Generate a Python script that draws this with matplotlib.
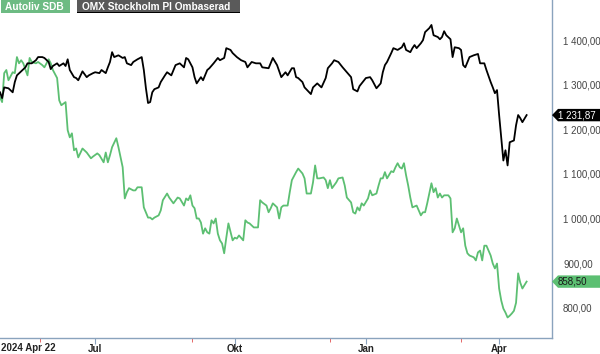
import matplotlib
matplotlib.use("Agg")
import matplotlib.pyplot as plt
from matplotlib.patches import Polygon, Rectangle
from matplotlib.transforms import blended_transform_factory

plt.rcParams['font.family'] = ['Liberation Sans', 'DejaVu Sans']

# trading-day index -> close
omx_days = [0, 1, 2, 4, 6, 7, 8, 10, 12, 13, 15, 17, 18, 20, 21, 23, 24, 25, 27, 28,
            30, 31, 32, 33, 35, 36, 37, 39, 41, 42, 44, 45, 47, 48, 50, 51, 52, 53, 54, 56,
            58, 59, 60, 62, 63, 65, 67, 68, 69, 70, 71, 72, 73, 75, 76, 78, 79, 81, 83, 85,
            87, 88, 89, 91, 92, 93, 95, 96, 98, 99, 101, 103, 104, 106, 107, 109, 110, 112, 114, 116,
            117, 119, 121, 123, 124, 127, 129, 131, 133, 135, 136, 138, 139, 140, 141, 143, 144, 147, 148, 150,
            152, 154, 155, 157, 158, 160, 162, 164, 166, 167, 169, 170, 173, 175, 176, 178, 180, 181, 182, 183,
            185, 186, 188, 190, 191, 192, 194, 195, 196, 197, 199, 200, 201, 203, 204, 205, 207, 208, 209, 210,
            211, 213, 214, 215, 217, 218, 219, 220, 222, 224, 226, 227, 229, 230, 232, 233, 234, 235, 236, 237,
            238, 239, 240, 241, 243, 244, 245, 246, 247, 249]
omx_vals = [1283, 1270, 1294, 1292, 1283, 1306, 1321, 1330, 1339, 1348, 1348, 1355, 1362, 1362, 1360, 1351, 1335, 1342, 1348, 1342,
            1348, 1342, 1357, 1333, 1317, 1315, 1310, 1330, 1317, 1321, 1326, 1328, 1326, 1333, 1326, 1339, 1351, 1373, 1362, 1366,
            1360, 1362, 1348, 1344, 1351, 1357, 1362, 1333, 1292, 1259, 1261, 1283, 1290, 1294, 1306, 1321, 1328, 1321, 1344, 1348,
            1339, 1360, 1357, 1339, 1317, 1303, 1317, 1310, 1333, 1337, 1348, 1360, 1355, 1360, 1382, 1378, 1371, 1362, 1355, 1351,
            1339, 1351, 1348, 1348, 1339, 1337, 1360, 1344, 1317, 1328, 1321, 1337, 1337, 1317, 1315, 1306, 1294, 1279, 1294, 1303,
            1294, 1315, 1337, 1348, 1355, 1351, 1339, 1328, 1317, 1290, 1285, 1297, 1315, 1317, 1310, 1292, 1303, 1328, 1344, 1351,
            1371, 1382, 1378, 1384, 1393, 1378, 1373, 1382, 1389, 1382, 1393, 1400, 1418, 1427, 1434, 1411, 1407, 1402, 1407, 1420,
            1411, 1402, 1362, 1384, 1382, 1378, 1344, 1339, 1362, 1366, 1369, 1348, 1348, 1333, 1306, 1294, 1281, 1288, 1232, 1180,
            1130, 1153, 1119, 1171, 1175, 1209, 1232, 1225, 1216, 1231.87]

alv_days = [0, 1, 2, 3, 4, 6, 7, 8, 9, 10, 11, 13, 14, 15, 17, 18, 20, 21, 23, 24,
            25, 27, 28, 29, 31, 32, 33, 34, 35, 36, 37, 39, 41, 43, 44, 46, 47, 49, 50, 51,
            52, 53, 55, 56, 58, 59, 60, 61, 63, 64, 65, 67, 68, 70, 71, 72, 73, 75, 76, 77,
            79, 80, 82, 84, 85, 87, 88, 89, 90, 91, 92, 93, 94, 95, 96, 97, 98, 99, 100, 101,
            102, 103, 104, 105, 106, 107, 108, 110, 111, 112, 113, 115, 116, 117, 118, 120, 122, 123, 124, 126,
            127, 128, 129, 131, 132, 133, 134, 136, 137, 138, 140, 141, 143, 144, 145, 147, 148, 149, 150, 151,
            153, 154, 155, 156, 157, 159, 160, 162, 163, 164, 166, 167, 168, 169, 170, 171, 172, 174, 175, 176,
            178, 179, 180, 181, 182, 183, 185, 186, 187, 188, 189, 190, 191, 192, 193, 194, 195, 197, 198, 199,
            200, 201, 202, 203, 204, 205, 206, 207, 208, 209, 210, 212, 213, 214, 215, 216, 218, 219, 220, 221,
            222, 224, 225, 226, 227, 228, 229, 230, 232, 233, 234, 235, 236, 237, 238, 239, 240, 241, 242, 243,
            244, 245, 246, 247, 249]
alv_vals = [1272, 1261, 1326, 1333, 1310, 1328, 1326, 1362, 1348, 1355, 1348, 1321, 1360, 1351, 1348, 1351, 1344, 1339, 1357, 1348,
            1333, 1315, 1265, 1254, 1261, 1198, 1182, 1191, 1153, 1157, 1137, 1157, 1148, 1135, 1139, 1146, 1142, 1126, 1148, 1126,
            1142, 1160, 1180, 1160, 1115, 1045, 1059, 1068, 1063, 1063, 1070, 1070, 1025, 1002, 1002, 998, 1002, 1007, 1018, 1041,
            1056, 1047, 1034, 1047, 1045, 1029, 1045, 1041, 1052, 1029, 1023, 1000, 1000, 991, 966, 978, 969, 966, 996, 989,
            1000, 966, 951, 944, 922, 957, 989, 951, 957, 955, 962, 951, 996, 991, 989, 980, 980, 1041, 1036, 1029,
            1014, 1023, 1034, 1025, 1000, 1025, 1029, 1029, 1059, 1086, 1104, 1112, 1101, 1090, 1056, 1056, 1081, 1119, 1090, 1090,
            1092, 1086, 1068, 1086, 1068, 1081, 1090, 1092, 1074, 1047, 1036, 1014, 1011, 1025, 1018, 1034, 1029, 1045, 1063, 1052,
            1056, 1074, 1090, 1090, 1104, 1090, 1106, 1104, 1115, 1124, 1115, 1112, 1124, 1097, 1074, 1047, 1025, 1029, 1018, 1007,
            1014, 1014, 1034, 1056, 1079, 1059, 1068, 1047, 1056, 1047, 1052, 1052, 1045, 969, 978, 1000, 969, 978, 939, 922,
            917, 913, 906, 924, 928, 906, 939, 939, 917, 899, 888, 899, 843, 816, 798, 789, 778, 782, 787, 793,
            811, 877, 856, 843, 858.5]

month_ticks = [45, 111, 173, 236]
month_labels = ['Jul', 'Okt', 'Jan', 'Apr']
red_ticks = [19, 91, 156, 218]
y_ticks = [800, 900, 1000, 1100, 1200, 1300, 1400]
y_labels = ['800,00', '900,00', '1 000,00', '1 100,00', '1 200,00', '1 300,00', '1 400,00']

GREEN = '#5cbf72'
SPINE = '#8aa3bd'

fig = plt.figure(figsize=(6, 3.54), dpi=100)
ax = fig.add_axes([0, 16 / 354, 552 / 600, 338 / 354])

ax.plot(alv_days, alv_vals, color=GREEN, lw=1.3, solid_joinstyle='round')
ax.plot(omx_days, omx_vals, color='black', lw=1.3, solid_joinstyle='round')

ax.set_xlim(0, 261)
ax.set_ylim(732, 1490)

for s in ['left', 'top']:
    ax.spines[s].set_visible(False)
for s in ['right', 'bottom']:
    ax.spines[s].set_color(SPINE)
    ax.spines[s].set_linewidth(1.0)

ax.yaxis.tick_right()
ax.set_yticks(y_ticks)
ax.set_yticklabels(y_labels)
ax.tick_params(axis='y', length=0, pad=8, labelsize=7, labelcolor='#444444')

ax.set_xticks(month_ticks)
ax.set_xticklabels(month_labels, fontweight='bold')
ax.set_xticks(red_ticks, minor=True)
ax.tick_params(axis='x', which='major', length=4, color=SPINE, labelsize=7,
               labelcolor='#222222', pad=0.5)
ax.tick_params(axis='x', which='minor', length=3, color='#e05050')
fig.text(1 / 600, 1 - 348 / 354, '2024 Apr 22', fontsize=7, fontweight='bold',
         color='#222222', ha='left', va='center')

# last value tags on the right
tr = blended_transform_factory(fig.transFigure, ax.transData)
half = 6.2 / 0.446
for val, txt, face, tc in [(omx_vals[-1], '1 231,87', 'black', 'white'),
                           (alv_vals[-1], '858,50', GREEN, '#1a1a1a')]:
    pts = [(552 / 600, val), (558 / 600, val + half), (600 / 600, val + half),
           (600 / 600, val - half), (558 / 600, val - half)]
    fig.add_artist(Polygon(pts, closed=True, transform=tr, facecolor=face,
                           edgecolor='none', clip_on=False))
    fig.text(558 / 600, val, txt, transform=tr, fontsize=7, color=tc,
             ha='left', va='center')

# legend boxes at the top
fig.add_artist(Rectangle((1 / 600, 1 - 13 / 354), 69 / 600, 13 / 354,
                         transform=fig.transFigure, facecolor='#6dbb83', edgecolor='none'))
fig.text(5 / 600, 1 - 6.5 / 354, 'Autoliv SDB', fontsize=7.3, fontweight='bold',
         color='white', ha='left', va='center')
fig.add_artist(Rectangle((77 / 600, 1 - 13 / 354), 163 / 600, 13 / 354,
                         transform=fig.transFigure, facecolor='#5a5a5a', edgecolor='none'))
fig.add_artist(Rectangle((77 / 600, 1 - 13 / 354), 163 / 600, 1.2 / 354,
                         transform=fig.transFigure, facecolor='black', edgecolor='none'))
fig.text(82 / 600, 1 - 6.5 / 354, 'OMX Stockholm PI Ombaserad', fontsize=7.3,
         fontweight='bold', color='white', ha='left', va='center')

fig.savefig('out.png', dpi=100)
